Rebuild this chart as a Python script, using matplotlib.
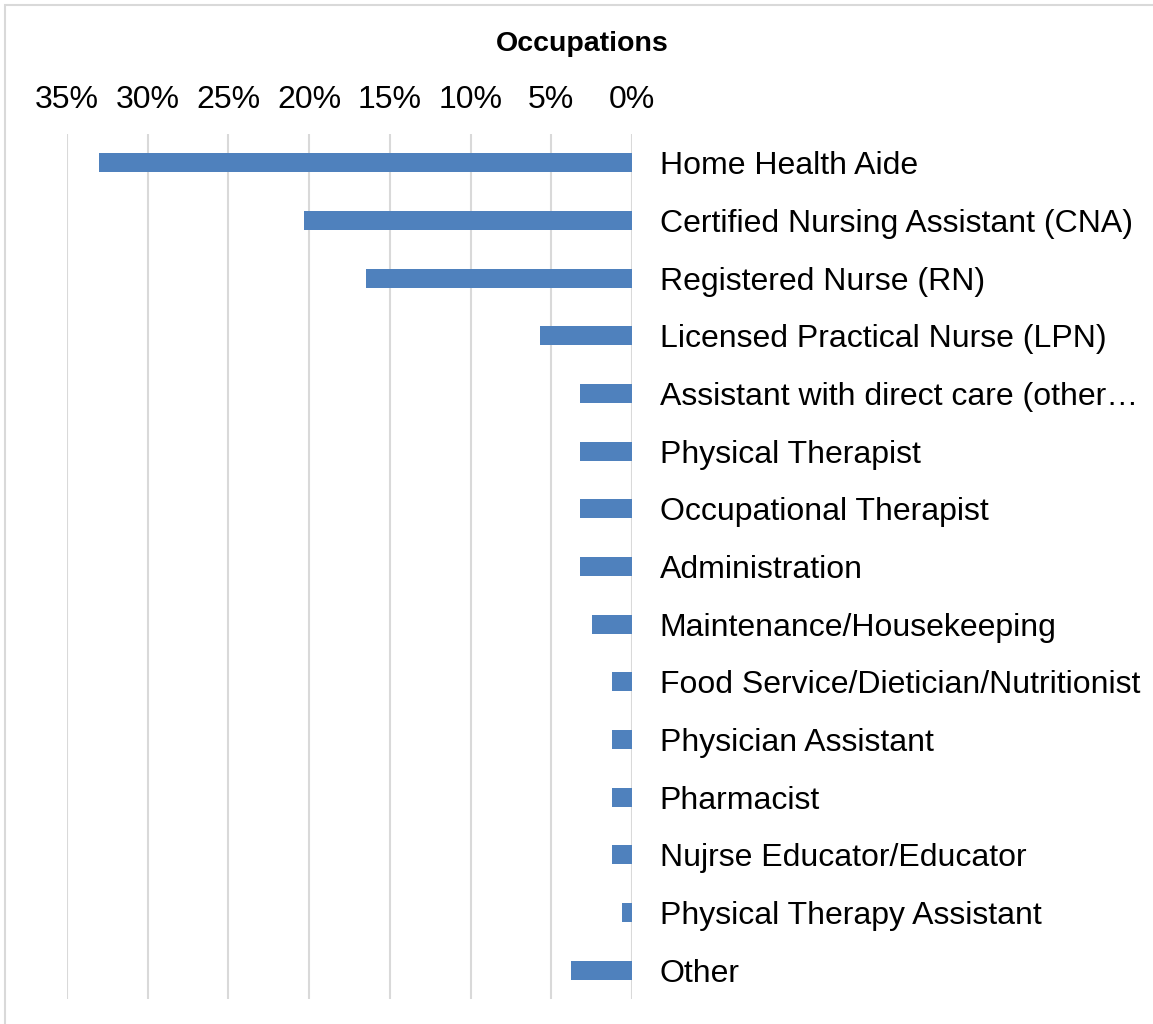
import matplotlib.pyplot as plt
from matplotlib.patches import Rectangle
from matplotlib.ticker import FuncFormatter

plt.rcParams['font.family'] = ['Liberation Sans', 'DejaVu Sans']

occupations = ['Home Health Aide', 'Certified Nursing Assistant (CNA)', 'Registered Nurse (RN)',
               'Licensed Practical Nurse (LPN)', 'Assistant with direct care (other\u2026',
               'Physical Therapist', 'Occupational Therapist', 'Administration',
               'Maintenance/Housekeeping', 'Food Service/Dietician/Nutritionist',
               'Physician Assistant', 'Pharmacist', 'Nujrse Educator/Educator',
               'Physical Therapy Assistant', 'Other']
shares = [33.0, 20.3, 16.5, 5.7, 3.2, 3.2, 3.2, 3.2, 2.5, 1.25, 1.25, 1.25, 1.25, 0.6, 3.8]
ticks = [0, 5, 10, 15, 20, 25, 30, 35]

fig = plt.figure(figsize=(11.53, 10.24), dpi=100)
ax = fig.add_axes([67 / 1153, 1 - 999 / 1024, (632 - 67) / 1153, (999 - 134) / 1024])

# grey frame around the chart (right and bottom edges fall outside the image)
fig.patches.append(Rectangle((5 / 1153, -0.1), 1.2, 1.1 - 5 / 1024, transform=fig.transFigure,
                             fill=False, edgecolor='#d9d9d9', linewidth=1.5))

pos = list(range(len(occupations)))
ax.barh(pos, shares, height=0.33, color='#4f81bd', zorder=3)

ax.set_xlim(35, 0)
ax.set_ylim(len(occupations) - 0.5, -0.5)
ax.set_xticks(ticks)
ax.xaxis.set_major_formatter(FuncFormatter(lambda v, p: f'{v:.0f}%'))
ax.xaxis.tick_top()
ax.tick_params(axis='x', length=0, pad=14, labelsize=23)
ax.set_yticks(pos)
ax.set_yticklabels(occupations)
ax.yaxis.tick_right()
ax.tick_params(axis='y', length=0, pad=20, labelsize=23)
ax.grid(axis='x', color='#d9d9d9', linewidth=1.5, zorder=0)
for s in ax.spines.values():
    s.set_visible(False)

fig.text(582 / 1153, 1 - 44 / 1024, 'Occupations', ha='center', va='center',
         fontsize=20.5, fontweight='bold')

fig.savefig('out.png', dpi=100)
